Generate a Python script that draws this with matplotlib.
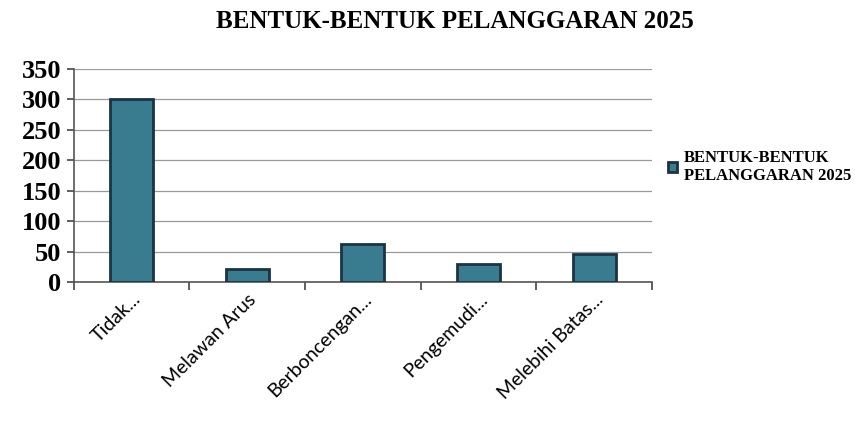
import numpy as np
import matplotlib

matplotlib.use("Agg")
import matplotlib.pyplot as plt  # noqa: E402

# data
categories = ["Tidak...", "Melawan Arus", "Berboncengan...", "Pengemudi...", "Melebihi Batas..."]
values = [300, 22, 63, 29, 47]
series_name = "BENTUK-BENTUK\nPELANGGARAN 2025"
title = "BENTUK-BENTUK PELANGGARAN 2025"
yticks = [0, 50, 100, 150, 200, 250, 300, 350]

bar_color = "#3a7c8f"
edge_color = "#1a3444"
serif = ["Liberation Serif", "DejaVu Serif"]

fig = plt.figure(figsize=(8.66, 4.23), dpi=100)
ax = fig.add_axes([0.085, 0.333, 0.668, 0.504])

x = np.arange(len(categories))
ax.bar(x, values, width=0.37, color=bar_color, edgecolor=edge_color,
       linewidth=2.0, label=series_name, zorder=3)

ax.set_xlim(-0.5, len(categories) - 0.5)
ax.set_ylim(0, 350)
ax.set_yticks(yticks)
ax.set_yticklabels([str(v) for v in yticks], fontfamily=serif,
                   fontweight="bold", fontsize=19)
ax.grid(axis="y", color="#999999", linewidth=0.9, zorder=0)

# category labels centred on bars, tick marks on the boundaries
ax.set_xticks(x)
ax.set_xticklabels(categories, rotation=45, ha="right",
                   rotation_mode="anchor", fontfamily="Lato", fontsize=14)
ax.tick_params(axis="x", which="major", length=0, pad=6)
ax.set_xticks(np.arange(-0.5, len(categories)), minor=True)
ax.tick_params(axis="x", which="minor", length=6, width=1.2, color="#444444")
ax.tick_params(axis="y", length=5, width=1.2, color="#444444", pad=4)

for side in ("top", "right"):
    ax.spines[side].set_visible(False)
for side in ("left", "bottom"):
    ax.spines[side].set_color("#555555")
    ax.spines[side].set_linewidth(1.2)

fig.text(0.525, 0.95, title, ha="center", va="center",
         fontfamily=serif, fontweight="bold", fontsize=18)

fig.legend(loc="center left", bbox_to_anchor=(0.76, 0.605), frameon=False,
           handlelength=0.55, handleheight=0.55, handletextpad=0.4,
           labelspacing=0.3, borderaxespad=0.2,
           prop={"family": serif, "weight": "bold", "size": 12})

fig.savefig("out.png", dpi=100)
